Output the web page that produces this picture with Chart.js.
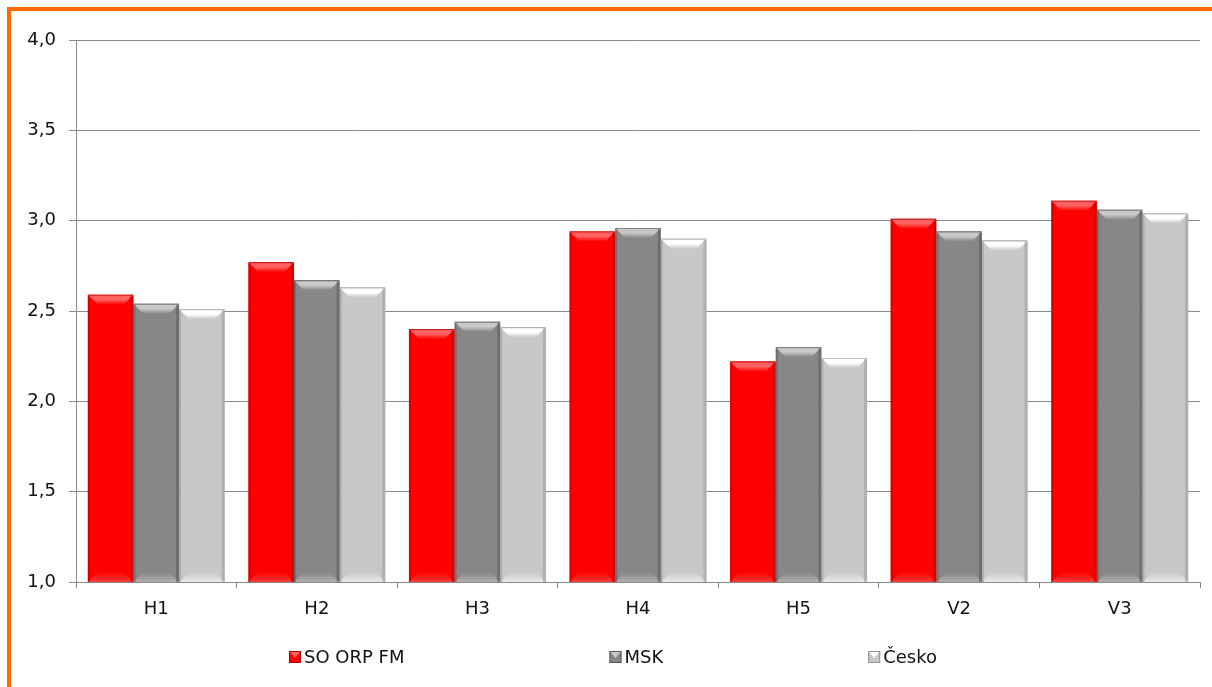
<!DOCTYPE html>
<html>
<head>
<meta charset="utf-8">
<script src="https://cdn.jsdelivr.net/npm/chart.js@4/dist/chart.umd.min.js"></script>
<style>
  html, body { margin: 0; padding: 0; background: #fff; overflow: hidden; }
  #frame {
    position: absolute; left: 7px; top: 7px;
    width: 1205px; height: 680px;
    border-top: 4px solid #ff6a00; border-left: 4px solid #ff6a00;
  }
  #chart { display: block; }
</style>
</head>
<body>
<div id="frame"><canvas id="chart" width="1201" height="676"></canvas></div>
<script>
// categories and values
const categories = ['H1', 'H2', 'H3', 'H4', 'H5', 'V2', 'V3'];
const seriesNames = ['SO ORP FM', 'MSK', 'Česko'];
const soOrpFm = [2.59, 2.77, 2.40, 2.94, 2.22, 3.01, 3.11];
const msk = [2.54, 2.67, 2.44, 2.96, 2.30, 2.94, 3.06];
const cesko = [2.51, 2.63, 2.41, 2.90, 2.24, 2.89, 3.04];
const yTicks = [1.0, 1.5, 2.0, 2.5, 3.0, 3.5, 4.0];

// body / light bevel / dark edge per series
const fills = ['#ff0000', '#878787', '#c8c8c8'];
const lights = ['#ff6060', '#c8c8c8', '#ffffff'];
const darks = ['#b00000', '#555555', '#959595'];

Chart.defaults.font.family = '"DejaVu Sans", Verdana, sans-serif';
Chart.defaults.font.size = 18;
Chart.defaults.color = '#111';

// fake the excel bevel on each bar
const bevel = {
  id: 'bevel',
  afterDatasetsDraw(chart) {
    const ctx = chart.ctx;
    const area = chart.chartArea;
    chart.data.datasets.forEach((ds, i) => {
      chart.getDatasetMeta(i).data.forEach(bar => {
        const p = bar.getProps(['x', 'y', 'base', 'width'], true);
        const l = p.x - p.width / 2, r = p.x + p.width / 2;
        const t = p.y, b = Math.min(p.base, area.bottom), s = 10;
        ctx.save();
        // top face
        let g = ctx.createLinearGradient(0, t, 0, t + s);
        g.addColorStop(0, darks[i]);
        g.addColorStop(0.15, lights[i]);
        g.addColorStop(0.5, lights[i]);
        g.addColorStop(1, fills[i]);
        ctx.fillStyle = g;
        ctx.beginPath();
        ctx.moveTo(l, t); ctx.lineTo(r, t); ctx.lineTo(r - s, t + s); ctx.lineTo(l + s, t + s);
        ctx.closePath(); ctx.fill();
        // bottom face
        g = ctx.createLinearGradient(0, b - s, 0, b);
        g.addColorStop(0, fills[i]);
        g.addColorStop(1, lights[i]);
        ctx.fillStyle = g;
        ctx.globalAlpha = 0.6;
        ctx.beginPath();
        ctx.moveTo(l + s, b - s); ctx.lineTo(r - s, b - s); ctx.lineTo(r, b); ctx.lineTo(l, b);
        ctx.closePath(); ctx.fill();
        // side edges
        ctx.fillStyle = darks[i];
        ctx.globalAlpha = 0.5;
        ctx.fillRect(l, t + 1, 2, b - t - 1);
        ctx.fillRect(r - 3, t + 1, 3, b - t - 1);
        ctx.restore();
      });
    });
  }
};

// legend spread out like the excel one
const spreadLegend = {
  id: 'spreadLegend',
  afterDraw(chart) {
    const ctx = chart.ctx;
    const area = chart.chartArea;
    const gap = 205, box = 12;
    ctx.save();
    ctx.font = '18px "DejaVu Sans", Verdana, sans-serif';
    ctx.textBaseline = 'middle';
    const widths = chart.data.datasets.map(ds => box + 3 + ctx.measureText(ds.label).width);
    const total = widths.reduce((a, w) => a + w, 0) + gap * (widths.length - 1);
    let x = (area.left + area.right) / 2 - 25 - total / 2;
    const y = 646;
    chart.data.datasets.forEach((ds, i) => {
      ctx.fillStyle = fills[i];
      ctx.fillRect(x, y - box / 2, box, box);
      ctx.fillStyle = lights[i];
      ctx.beginPath();
      ctx.moveTo(x, y - box / 2); ctx.lineTo(x + box, y - box / 2); ctx.lineTo(x + box / 2, y + 1);
      ctx.closePath(); ctx.fill();
      ctx.strokeStyle = darks[i];
      ctx.lineWidth = 1;
      ctx.strokeRect(x + 0.5, y - box / 2 + 0.5, box - 1, box - 1);
      ctx.fillStyle = '#111';
      ctx.fillText(ds.label, x + box + 3, y + 1);
      x += widths[i] + gap;
    });
    ctx.restore();
  }
};

new Chart(document.getElementById('chart'), {
  type: 'bar',
  data: {
    labels: categories,
    datasets: [
      { label: seriesNames[0], data: soOrpFm, backgroundColor: fills[0] },
      { label: seriesNames[1], data: msk, backgroundColor: fills[1] },
      { label: seriesNames[2], data: cesko, backgroundColor: fills[2] }
    ]
  },
  options: {
    responsive: false,
    animation: false,
    layout: { padding: { top: 29, right: 12, bottom: 65, left: 0 } },
    datasets: { bar: { categoryPercentage: 0.853, barPercentage: 1.0 } },
    plugins: { legend: { display: false }, tooltip: { enabled: false } },
    scales: {
      x: {
        grid: { drawOnChartArea: false, offset: true, tickLength: 6, color: '#8a8a8a' },
        border: { color: '#8a8a8a' },
        ticks: { padding: 11 },
        afterFit(scale) { scale.height = 40; }
      },
      y: {
        min: 1, max: 4,
        afterBuildTicks(scale) { scale.ticks = yTicks.map(v => ({ value: v })); },
        ticks: {
          padding: 13,
          callback: v => v.toFixed(1).replace('.', ',')
        },
        grid: { color: '#8a8a8a', tickLength: 7 },
        border: { color: '#8a8a8a' },
        afterFit(scale) { scale.width = 65; }
      }
    }
  },
  plugins: [bevel, spreadLegend]
});
</script>
</body>
</html>
